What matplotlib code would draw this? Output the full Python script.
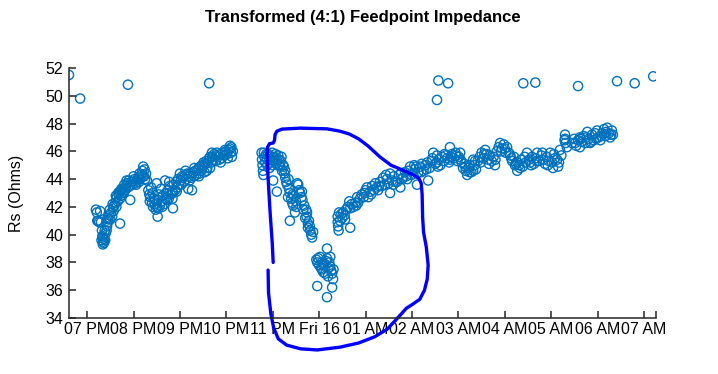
import matplotlib
matplotlib.use("Agg")
import matplotlib.pyplot as plt
from matplotlib.ticker import FixedLocator, NullFormatter

plt.rcParams['font.family'] = ['Liberation Sans', 'DejaVu Sans']

# hours after 7 PM on Thu 15, Rs in ohms
evening = [(0.19, 41.8), (0.21, 41.6), (0.24, 41.0), (0.26, 40.9), (0.28, 41.7), (0.30, 40.9),
           (0.32, 40.3), (0.33, 39.8), (0.34, 39.3), (0.35, 39.5), (0.36, 39.4), (0.37, 39.7),
           (0.39, 39.6), (0.40, 40.1), (0.42, 40.3), (0.43, 40.6), (0.45, 40.9), (0.46, 41.1),
           (0.48, 41.4), (0.50, 41.1), (0.52, 41.6), (0.54, 41.3), (0.56, 42.0), (0.57, 41.7),
           (0.59, 42.1), (0.61, 42.3), (0.63, 42.0), (0.64, 42.7), (0.66, 42.4), (0.68, 42.9),
           (0.70, 43.1), (0.71, 40.8), (0.71, 42.6), (0.74, 43.3), (0.76, 43.0), (0.78, 43.3),
           (0.80, 43.6), (0.82, 43.2), (0.84, 43.5), (0.86, 43.7), (0.88, 43.4), (0.90, 43.9),
           (0.93, 42.5), (0.95, 43.8), (0.97, 43.6), (0.99, 43.8), (1.02, 44.0), (1.04, 43.7),
           (1.07, 43.9), (1.10, 44.1), (1.12, 43.8), (1.14, 44.0), (1.17, 44.3), (1.19, 44.6),
           (1.21, 44.9), (1.23, 44.2), (1.25, 44.0), (1.27, 44.4), (1.29, 43.9),
           (0.22, 41.0), (0.31, 39.6), (0.33, 39.9), (0.38, 40.3), (0.44, 41.2), (0.49, 41.8),
           (0.55, 42.2), (0.62, 42.8), (0.67, 43.0), (0.73, 42.8), (0.79, 43.0), (0.85, 43.9),
           (0.92, 43.5), (1.00, 44.2), (1.06, 43.6), (1.13, 44.4), (1.20, 44.2), (1.24, 44.7)]

late_evening = [(1.32, 43.2), (1.34, 42.9), (1.36, 42.7), (1.38, 43.4), (1.40, 42.3), (1.42, 42.0),
                (1.44, 42.6), (1.46, 42.2), (1.48, 41.8), (1.50, 43.7), (1.50, 42.0), (1.52, 41.3),
                (1.53, 42.5), (1.55, 42.9), (1.57, 42.1), (1.59, 43.3), (1.61, 42.4), (1.63, 42.8),
                (1.66, 42.2), (1.68, 43.9), (1.70, 43.0), (1.72, 42.5), (1.74, 43.2), (1.76, 42.6),
                (1.78, 43.5), (1.80, 42.9), (1.83, 43.1), (1.85, 41.9), (1.85, 43.0), (1.87, 43.6),
                (1.90, 43.2), (1.92, 43.8), (1.94, 43.4), (1.96, 44.0), (1.98, 43.6), (2.00, 44.4),
                (2.02, 43.9), (2.05, 44.2), (2.07, 44.1), (2.09, 43.8), (2.11, 44.3), (2.14, 44.0),
                (2.16, 44.4), (2.18, 43.3), (2.20, 44.2), (2.22, 44.4), (2.24, 44.1), (2.26, 43.2),
                (2.28, 44.5), (2.30, 44.2), (2.33, 44.6), (2.35, 44.3), (2.37, 44.6), (2.40, 44.8),
                (2.42, 44.4), (2.44, 44.9), (2.46, 44.6), (2.48, 45.0), (2.50, 44.9), (2.53, 44.5),
                (2.55, 45.1), (2.57, 45.3), (2.59, 44.8), (2.61, 45.2), (2.63, 45.5), (2.65, 45.6),
                (2.65, 44.8), (2.68, 45.2), (2.70, 45.6), (2.72, 45.4), (2.74, 45.8), (2.77, 45.3),
                (2.80, 45.9), (2.82, 45.6), (2.85, 45.4), (2.87, 45.8), (2.90, 45.5), (2.93, 45.9),
                (2.96, 45.7), (2.99, 46.0), (3.02, 45.8), (3.05, 46.1), (3.08, 46.4), (3.08, 46.2),
                (3.10, 45.9), (3.12, 45.6), (3.14, 46.0),
                (1.35, 42.4), (1.41, 43.0), (1.47, 42.5), (1.54, 41.9), (1.62, 42.0), (1.69, 42.6),
                (1.77, 43.8), (1.84, 42.6), (1.93, 43.1), (2.03, 43.6), (2.12, 44.6), (2.21, 43.9),
                (2.31, 44.8), (2.41, 44.2), (2.51, 45.2), (2.58, 44.6), (2.69, 45.9), (2.78, 45.7),
                (2.88, 45.2), (2.97, 46.1), (3.03, 45.5), (3.11, 46.3)]

midnight_drop = [(3.76, 45.9), (3.77, 45.4), (3.78, 45.0), (3.79, 44.6), (3.80, 44.3), (3.82, 45.6),
                 (3.84, 45.2), (3.86, 45.8), (3.88, 45.0), (3.90, 45.8), (3.92, 45.4), (3.94, 45.2),
                 (3.96, 45.6), (3.99, 45.9), (4.01, 43.9), (4.01, 45.3), (4.03, 45.6), (4.05, 45.5),
                 (4.07, 45.1), (4.09, 43.1), (4.10, 45.3), (4.12, 45.7), (4.14, 45.0), (4.16, 44.9),
                 (4.18, 45.3), (4.20, 44.6), (4.22, 45.0), (4.25, 44.4), (4.27, 44.6), (4.27, 44.1),
                 (4.29, 43.8), (4.31, 43.6), (4.33, 42.7), (4.35, 43.3), (4.37, 43.0), (4.37, 41.0),
                 (4.40, 42.6), (4.42, 42.3), (4.44, 42.1), (4.46, 42.8), (4.48, 41.6), (4.50, 42.4),
                 (4.53, 43.7), (4.55, 43.6), (4.57, 43.2), (4.59, 43.0), (4.62, 42.7), (4.64, 42.5),
                 (4.66, 41.8), (4.68, 42.1), (4.70, 41.2), (4.72, 41.8), (4.74, 41.6), (4.76, 40.8),
                 (4.76, 40.5), (4.78, 41.0), (4.81, 40.3), (4.83, 40.0), (4.85, 39.8), (4.87, 40.2),
                 (3.81, 45.9), (3.87, 45.5), (3.93, 44.8), (4.00, 45.0), (4.06, 45.8), (4.13, 45.4),
                 (4.19, 45.6), (4.24, 44.9), (4.34, 44.0), (4.43, 42.9), (4.51, 42.0), (4.63, 43.1),
                 (4.73, 41.3), (4.80, 40.6)]

dip = [(4.94, 38.2), (4.96, 38.0), (4.96, 36.3), (4.98, 38.3), (5.00, 37.8), (5.02, 38.4),
       (5.04, 37.6), (5.06, 38.0), (5.06, 37.5), (5.08, 37.8), (5.09, 37.3), (5.11, 37.9),
       (5.13, 37.2), (5.15, 38.1), (5.17, 39.0), (5.17, 38.3), (5.17, 35.5), (5.19, 37.0),
       (5.20, 37.6), (5.22, 38.0), (5.24, 37.7), (5.24, 38.4), (5.26, 37.4), (5.28, 37.2),
       (5.28, 36.2), (5.30, 36.8), (5.31, 37.5)]

recovery = [(5.40, 41.3), (5.40, 40.9), (5.41, 40.6), (5.42, 40.3), (5.45, 41.0), (5.48, 41.5),
            (5.50, 41.2), (5.52, 41.6), (5.56, 41.1), (5.58, 41.8), (5.62, 42.0), (5.67, 41.9),
            (5.67, 40.5), (5.70, 42.2), (5.74, 42.0), (5.78, 42.3), (5.82, 42.7), (5.84, 42.3),
            (5.88, 42.6), (5.92, 42.9), (5.96, 42.7), (6.00, 43.2), (6.03, 43.4), (6.06, 42.7),
            (6.10, 43.1), (6.14, 43.5), (6.18, 43.2), (6.21, 43.7), (6.24, 43.4), (6.27, 43.2),
            (6.31, 43.8), (6.35, 43.5), (6.38, 44.1), (6.42, 43.6), (6.46, 44.0), (6.50, 43.7),
            (6.53, 44.4), (6.53, 43.0), (6.57, 43.9), (6.61, 44.2), (6.65, 43.8), (6.68, 43.8),
            (6.72, 44.3), (6.75, 43.4), (6.78, 44.0), (6.81, 44.1), (6.85, 44.5), (6.88, 44.2),
            (6.92, 44.6), (6.96, 44.9), (6.99, 44.3), (7.03, 44.4), (7.06, 44.7), (7.09, 44.9),
            (7.11, 43.6), (7.14, 44.5), (7.18, 44.9), (7.21, 45.1), (7.25, 44.6), (7.29, 45.0),
            (7.33, 45.2), (7.35, 43.9), (7.38, 44.8), (7.42, 45.3), (7.46, 45.9), (7.50, 45.1),
            (7.54, 45.2), (7.54, 45.7), (7.58, 45.4), (7.61, 45.0), (7.65, 45.6), (7.69, 45.3),
            (7.73, 45.7), (7.76, 45.5),
            (5.43, 41.6), (5.55, 41.4), (5.65, 42.4), (5.80, 42.1), (5.98, 43.0), (6.12, 42.9),
            (6.29, 43.5), (6.44, 44.3), (6.60, 43.6), (6.76, 44.4), (6.90, 44.0), (7.05, 45.0),
            (7.20, 44.5), (7.31, 44.7), (7.44, 45.5), (7.56, 44.9), (7.70, 45.8)]

morning = [(7.80, 45.2), (7.82, 46.3), (7.82, 45.4), (7.86, 45.8), (7.90, 45.5), (7.94, 45.9),
           (7.98, 45.3), (8.01, 45.6), (8.04, 45.9), (8.07, 45.2), (8.10, 44.8), (8.13, 45.1),
           (8.16, 44.6), (8.19, 44.3), (8.22, 44.8), (8.25, 45.0), (8.28, 44.5), (8.32, 45.4),
           (8.32, 44.6), (8.35, 45.0), (8.38, 44.7), (8.42, 45.3), (8.46, 45.6), (8.50, 45.9),
           (8.54, 45.5), (8.58, 46.1), (8.61, 45.8), (8.64, 45.4), (8.68, 45.7), (8.72, 45.3),
           (8.76, 45.6), (8.79, 45.0), (8.83, 46.0), (8.87, 46.3), (8.90, 46.6), (8.94, 46.2),
           (8.98, 46.5), (9.02, 45.9), (9.05, 46.3), (9.09, 45.9), (9.12, 45.7), (9.16, 45.3),
           (9.20, 45.6), (9.24, 45.1), (9.27, 45.2), (9.27, 44.6), (9.31, 45.0), (9.35, 45.4),
           (9.39, 44.9), (9.43, 45.6), (9.48, 45.9), (9.52, 45.4), (9.55, 45.2), (9.59, 45.6),
           (9.63, 45.1), (9.67, 45.5), (9.70, 45.9), (9.74, 45.3), (9.79, 45.7), (9.83, 45.4),
           (9.87, 45.1), (9.91, 45.6), (9.95, 45.3), (9.98, 45.9), (10.02, 45.2), (10.04, 44.8),
           (10.08, 45.5), (10.13, 45.4), (10.15, 44.9), (10.19, 46.1), (10.22, 45.7), (10.30, 47.2),
           (10.30, 46.9), (10.31, 46.6), (10.34, 46.3), (10.45, 46.6), (10.50, 46.9), (10.54, 46.4),
           (10.58, 46.8), (10.62, 47.0), (10.62, 46.3), (10.66, 46.7), (10.70, 47.1), (10.74, 46.6),
           (10.78, 47.4), (10.81, 46.9), (10.84, 46.6), (10.88, 47.2), (10.92, 46.8), (10.95, 47.3),
           (10.99, 47.5), (11.02, 47.0), (11.06, 46.8), (11.10, 47.3), (11.14, 47.6), (11.17, 47.1),
           (11.21, 47.7), (11.24, 47.3), (11.27, 47.0), (11.31, 47.5), (11.33, 47.2),
           (7.84, 45.6), (7.96, 45.7), (8.05, 45.4), (8.15, 44.9), (8.24, 44.5), (8.36, 45.3),
           (8.48, 45.2), (8.56, 45.8), (8.66, 45.1), (8.80, 45.4), (8.92, 46.0), (9.00, 46.2),
           (9.14, 45.5), (9.22, 45.0), (9.33, 44.8), (9.45, 45.2), (9.57, 45.0), (9.69, 45.3),
           (9.81, 45.9), (9.93, 45.0), (10.06, 45.8), (10.17, 45.2), (10.29, 46.8), (10.52, 46.6),
           (10.64, 46.9), (10.76, 47.0), (10.86, 46.7), (10.97, 46.9), (11.08, 47.1), (11.19, 47.4),
           (11.29, 47.2)]

outliers = [(-0.39, 51.5), (-0.15, 49.8), (0.88, 50.8), (2.63, 50.9), (7.54, 49.7), (7.57, 51.1),
            (7.78, 50.9), (9.40, 50.9), (9.66, 50.95), (10.58, 50.7), (11.42, 51.05), (11.80, 50.9),
            (12.20, 51.4)]

tick_hours = list(range(13))
tick_labels = ['07 PM', '08 PM', '09 PM', '10 PM', '11 PM', 'Fri 16', '01 AM',
               '02 AM', '03 AM', '04 AM', '05 AM', '06 AM', '07 AM']

# hand drawn circle around the dip (same units as the data)
loop = [(4.01, 38.0), (3.99, 39.4), (3.94, 41.8), (3.90, 44.1), (3.88, 45.8), (3.89, 46.3),
        (3.93, 46.55), (4.01, 46.6), (4.04, 46.8), (4.05, 47.2), (4.09, 47.45), (4.20, 47.6),
        (4.59, 47.67), (5.17, 47.62), (5.45, 47.45), (5.65, 47.25), (5.85, 46.9), (6.05, 46.4),
        (6.31, 45.6), (6.55, 45.0), (6.80, 44.65), (7.03, 44.3), (7.15, 44.05), (7.20, 43.7),
        (7.22, 42.9), (7.23, 41.3), (7.25, 40.2), (7.31, 39.1), (7.35, 37.8), (7.33, 36.8),
        (7.27, 36.0), (7.17, 35.35), (7.02, 35.0), (6.88, 34.7), (6.72, 34.1), (6.47, 33.2),
        (6.20, 32.65), (5.85, 32.2), (5.45, 31.9), (4.96, 31.7), (4.60, 31.78), (4.30, 32.05),
        (4.12, 32.5), (4.02, 33.3), (3.96, 34.3), (3.91, 35.8), (3.90, 37.45)]

points = evening + late_evening + midnight_drop + dip + recovery + morning + outliers
hours = [p[0] for p in points]
rs = [p[1] for p in points]

fig = plt.figure(figsize=(7.18, 3.74), dpi=100)
ax = fig.add_axes([69 / 718, 56 / 374, 587 / 718, 250 / 374])

ax.scatter(hours, rs, s=44, facecolors='none', edgecolors='#0072BD', linewidths=1.0)

ax.plot([p[0] for p in loop], [p[1] for p in loop], color='#0000FF', lw=2.4,
        clip_on=False, solid_capstyle='round', solid_joinstyle='round')

ax.set_xlim(-0.39, 12.26)
ax.set_ylim(34, 52)
ax.set_yticks(range(34, 53, 2))
ax.xaxis.set_major_locator(FixedLocator(tick_hours))
ax.set_xticklabels(tick_labels)
ax.xaxis.set_minor_locator(FixedLocator([12.26]))
ax.xaxis.set_minor_formatter(NullFormatter())

for side in ['top', 'right']:
    ax.spines[side].set_visible(False)
for side in ['left', 'bottom']:
    ax.spines[side].set_color('#262626')
    ax.spines[side].set_linewidth(1.1)

ax.tick_params(axis='both', direction='in', length=5, width=1.1, color='#262626',
               labelsize=11.5, labelcolor='black')
ax.tick_params(axis='x', which='minor', direction='in', length=5, width=1.1, color='#262626')
ax.tick_params(axis='y', pad=4)
ax.tick_params(axis='x', pad=3)

ax.set_ylabel('Rs (Ohms)', fontsize=11.5)
ax.yaxis.set_label_coords(-0.076, 0.5)
ax.set_title('Transformed (4:1) Feedpoint Impedance', fontsize=12, fontweight='bold', pad=33)

fig.savefig('out.png', dpi=100)
